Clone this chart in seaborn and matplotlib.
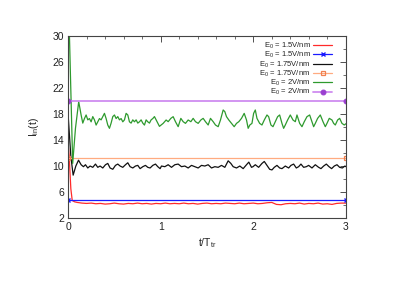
import matplotlib
matplotlib.use("Agg")
import matplotlib.pyplot as plt
import seaborn as sns
import numpy as np
from matplotlib.ticker import MultipleLocator

# ---- data ----
labels = ["E$_0$ = 1.5V/nm", "E$_0$ = 1.5V/nm", "E$_0$ = 1.75V/nm",
          "E$_0$ = 1.75V/nm", "E$_0$ = 2V/nm", "E$_0$ = 2V/nm"]

red_t = [0.0, 0.012, 0.03, 0.045, 0.07, 0.1, 0.15, 0.2, 0.25, 0.3, 0.35, 0.4, 0.45, 0.5,
         0.55, 0.6, 0.65, 0.7, 0.75, 0.8, 0.85, 0.9, 0.95, 1.0, 1.05, 1.1, 1.15, 1.2, 1.25,
         1.3, 1.35, 1.4, 1.45, 1.5, 1.55, 1.6, 1.65, 1.7, 1.75, 1.8, 1.85, 1.9, 1.95, 2.0,
         2.05, 2.1, 2.15, 2.2, 2.25, 2.3, 2.35, 2.4, 2.45, 2.5, 2.55, 2.6, 2.65, 2.7, 2.75,
         2.8, 2.85, 2.9, 2.95, 3.0]
red_v = [13.5, 11.5, 6.5, 4.7, 4.5, 4.4, 4.3, 4.25, 4.3, 4.2, 4.25, 4.15, 4.2, 4.3,
         4.2, 4.15, 4.25, 4.2, 4.3, 4.2, 4.25, 4.15, 4.25, 4.2, 4.3, 4.2, 4.25, 4.2, 4.3,
         4.2, 4.25, 4.15, 4.25, 4.3, 4.2, 4.25, 4.2, 4.3, 4.25, 4.2, 4.3, 4.2, 4.25, 4.3,
         4.2, 4.25, 4.35, 4.4, 4.1, 4.05, 4.2, 4.25, 4.2, 4.3, 4.15, 4.25, 4.2, 4.3, 4.15,
         4.2, 4.1, 4.25, 4.3, 4.3]

black_t = [0.0, 0.03, 0.055, 0.084, 0.113, 0.141, 0.166, 0.188, 0.213, 0.238, 0.267, 0.296,
           0.321, 0.346, 0.375, 0.404, 0.429, 0.454, 0.483, 0.512, 0.537, 0.562, 0.591,
           0.62, 0.645, 0.67, 0.699, 0.728, 0.753, 0.778, 0.807, 0.836, 0.861, 0.886,
           0.915, 0.944, 0.969, 0.994, 1.009, 1.045, 1.081, 1.117, 1.153, 1.189, 1.225,
           1.261, 1.297, 1.333, 1.369, 1.405, 1.441, 1.477, 1.513, 1.549, 1.585, 1.621,
           1.657, 1.693, 1.729, 1.758, 1.783, 1.819, 1.855, 1.891, 1.927, 1.952, 1.981,
           1.997, 2.022, 2.058, 2.094, 2.119, 2.148, 2.177, 2.202, 2.227, 2.256, 2.285,
           2.31, 2.346, 2.382, 2.407, 2.436, 2.465, 2.49, 2.515, 2.544, 2.573, 2.598,
           2.634, 2.67, 2.706, 2.731, 2.76, 2.789, 2.818, 2.846, 2.875, 2.904, 2.933,
           2.962, 2.99, 3.0]
black_v = [18.0, 11.5, 8.6, 10.0, 10.9, 10.2, 9.9, 10.2, 9.7, 10.0, 9.8, 10.3,
           9.8, 10.0, 9.7, 10.2, 10.4, 9.7, 9.5, 10.1, 10.3, 10.0, 9.8,
           10.2, 10.5, 9.9, 9.7, 10.0, 10.1, 9.6, 9.9, 10.1, 9.8, 9.7,
           10.1, 10.3, 9.9, 9.6, 10.0, 9.9, 10.2, 9.8, 10.2, 10.3, 9.9,
           10.0, 9.7, 10.1, 9.9, 9.7, 10.1, 10.0, 10.2, 9.7, 9.9, 9.8,
           10.1, 9.8, 10.8, 10.4, 9.9, 9.7, 10.0, 9.6, 10.2, 10.6, 9.8,
           9.9, 10.2, 9.8, 10.4, 10.7, 10.1, 9.5, 9.4, 9.8, 10.1, 9.7,
           9.6, 10.0, 9.7, 10.1, 10.3, 9.7, 9.9, 10.3, 9.8, 9.9, 10.1,
           9.7, 10.2, 9.8, 9.6, 10.0, 10.3, 9.9, 9.6, 10.0, 10.2, 9.8,
           9.7, 10.0, 9.9]

green_t = [0.0, 0.015, 0.05, 0.08, 0.115, 0.141, 0.159, 0.177, 0.195, 0.213, 0.231, 0.249,
           0.267, 0.285, 0.303, 0.321, 0.339, 0.357, 0.375, 0.393, 0.411, 0.429, 0.447,
           0.465, 0.483, 0.501, 0.519, 0.537, 0.555, 0.573, 0.591, 0.609, 0.627, 0.645,
           0.663, 0.681, 0.699, 0.717, 0.735, 0.753, 0.771, 0.789, 0.807, 0.825, 0.843,
           0.861, 0.879, 0.897, 0.915, 0.933, 0.951, 0.969, 0.987, 1.005, 1.027, 1.059,
           1.081, 1.11, 1.135, 1.16, 1.189, 1.218, 1.243, 1.268, 1.297, 1.326, 1.351,
           1.376, 1.405, 1.434, 1.459, 1.484, 1.513, 1.538, 1.567, 1.592, 1.621, 1.646,
           1.675, 1.693, 1.711, 1.736, 1.765, 1.794, 1.819, 1.844, 1.873, 1.902, 1.927,
           1.945, 1.963, 1.986, 2.004, 2.022, 2.04, 2.069, 2.094, 2.119, 2.148, 2.166,
           2.191, 2.213, 2.238, 2.263, 2.285, 2.31, 2.328, 2.346, 2.371, 2.4, 2.429,
           2.454, 2.472, 2.501, 2.526, 2.551, 2.58, 2.609, 2.634, 2.652, 2.67, 2.695,
           2.724, 2.753, 2.778, 2.796, 2.821, 2.85, 2.868, 2.886, 2.911, 2.933, 2.958,
           2.983, 3.0]
green_v = [38.0, 30.0, 10.4, 15.8, 19.9, 17.85, 16.6, 17.3, 17.85, 17.1, 17.3, 16.8,
           17.6, 17.1, 16.3, 16.8, 17.3, 17.1, 17.6, 18.1, 17.3, 16.3, 15.8,
           16.6, 17.6, 17.85, 17.3, 17.6, 17.1, 17.3, 16.8, 17.1, 18.1, 17.85,
           16.8, 16.6, 17.1, 16.8, 17.1, 16.6, 16.8, 17.1, 16.6, 16.3, 17.1,
           16.8, 16.6, 17.1, 17.3, 17.6, 17.1, 16.6, 16.1, 16.3, 16.56, 17.08,
           16.82, 17.33, 17.59, 16.82, 16.05, 17.33, 16.82, 16.56, 17.08, 16.82, 17.33,
           16.82, 16.56, 17.08, 17.33, 16.82, 16.31, 17.33, 16.82, 16.31, 16.05, 17.08,
           18.62, 18.36, 17.59, 17.08, 16.56, 16.05, 16.56, 16.82, 17.33, 18.1, 17.08,
           15.8, 16.31, 16.56, 18.1, 18.62, 17.33, 16.56, 16.31, 17.08, 17.85, 17.59,
           16.31, 16.05, 16.82, 17.59, 17.85, 16.56, 15.8, 16.31, 17.08, 17.85, 17.08,
           16.82, 17.85, 16.56, 16.05, 16.82, 17.59, 17.85, 16.82, 16.05, 16.56, 17.33,
           17.85, 16.82, 16.05, 16.56, 17.33, 17.08, 16.56, 16.31, 17.08, 17.33, 16.56,
           16.31, 16.5]

const_t = [0.0, 3.0]
blue_level = 4.7
orange_level = 11.2
purple_level = 20.0

x_ticks = [0, 1, 2, 3]
y_ticks = [2, 6, 10, 14, 18, 22, 26, 30]

# ---- style ----
sns.set_theme(style="white")
plt.rcParams["font.family"] = ["Liberation Sans", "DejaVu Sans"]
plt.rcParams["mathtext.fontset"] = "custom"
plt.rcParams["mathtext.rm"] = "Liberation Sans"
plt.rcParams["mathtext.it"] = "Liberation Sans"

fig = plt.figure(figsize=(3.98, 2.81), dpi=100)
ax = fig.add_axes([0.171, 0.224, 0.698, 0.648])

lw = 0.9
sns.lineplot(x=red_t, y=red_v, ax=ax, color="#ff2a2a", lw=lw, label=labels[0],
             sort=False, estimator=None)
sns.lineplot(x=const_t, y=[blue_level] * 2, ax=ax, color="#1a1aff", lw=lw, label=labels[1],
             marker="x", markersize=3.5, markeredgewidth=1.0, markeredgecolor="#1a1aff",
             sort=False, estimator=None)
sns.lineplot(x=black_t, y=black_v, ax=ax, color="#111111", lw=lw, label=labels[2],
             sort=False, estimator=None)
sns.lineplot(x=const_t, y=[orange_level] * 2, ax=ax, color="#ffab80", lw=lw, label=labels[3],
             marker="s", markersize=3.5, markerfacecolor="none", markeredgecolor="#f08050",
             markeredgewidth=0.9, sort=False, estimator=None)
sns.lineplot(x=green_t, y=green_v, ax=ax, color="#2e9a2e", lw=lw, label=labels[4],
             sort=False, estimator=None)
sns.lineplot(x=const_t, y=[purple_level] * 2, ax=ax, color="#cf8cf0", lw=1.3, label=labels[5],
             marker="o", markersize=3.5, markerfacecolor="#9a3fd0", markeredgecolor="#9a3fd0",
             sort=False, estimator=None)

ax.set_xlim(0, 3)
ax.set_ylim(2, 30)
ax.set_xticks(x_ticks)
ax.set_yticks(y_ticks)
ax.xaxis.set_minor_locator(MultipleLocator(0.2))
ax.yaxis.set_minor_locator(MultipleLocator(2))
ax.tick_params(which="both", direction="in", top=True, right=True, colors="#333333",
               labelsize=7.5, labelcolor="#222222")
ax.tick_params(which="major", length=4, width=0.6, pad=3)
ax.tick_params(which="minor", length=2, width=0.5)
for s in ax.spines.values():
    s.set_color("#444444")
    s.set_linewidth(0.8)

ax.set_xlabel("t/T$_{\\mathrm{tr}}$", fontsize=7.5, labelpad=3, color="#222222")
ax.set_ylabel("I$_{\\mathrm{in}}$(t)", fontsize=7.5, labelpad=8, color="#222222")

ax.legend(loc="upper right", bbox_to_anchor=(0.962, 0.99), frameon=False,
          markerfirst=False, fontsize=5.5, handlelength=2.5, labelspacing=-0.12,
          borderaxespad=0.0, handletextpad=0.35, numpoints=1, labelcolor="#222222")

fig.savefig("out.png", dpi=100)
